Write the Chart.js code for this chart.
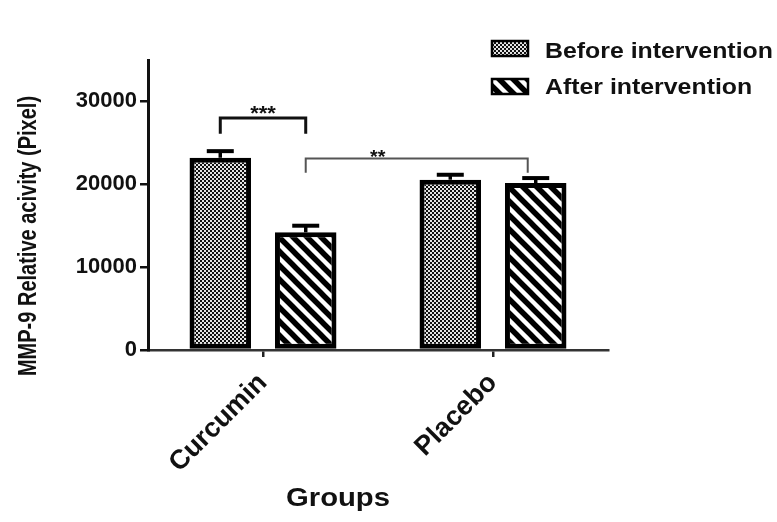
<!DOCTYPE html>
<html>
<head>
<meta charset="utf-8">
<script src="https://cdn.jsdelivr.net/npm/chart.js@4.4.0/dist/chart.umd.min.js"></script>
<style>
  html, body { margin: 0; padding: 0; background: #fff; }
</style>
</head>
<body>
<canvas id="mmp" width="777" height="522"></canvas>
<script>
var FONT = '"Liberation Sans", Arial, sans-serif';

var groups = ['Curcumin', 'Placebo'];
var seriesNames = ['Before intervention', 'After intervention'];
var beforeVals = [23200, 20550];
var afterVals = [14200, 20150];
var beforeErr = [800, 600];
var afterErr = [800, 600];
var yTicks = [0, 10000, 20000, 30000];
var yMax = 35000;

// significance brackets: which bars they join, line level, leg end, stars
var bracketFrom = [[0, 0], [1, 0]];
var bracketTo = [[1, 0], [1, 1]];
var bracketTop = [28000, 23100];
var bracketLeg = [26100, 21400];
var bracketLabel = ['***', '**'];

function checkerPattern(ctx) {
    var c = document.createElement('canvas');
    c.width = 4; c.height = 4;
    var g = c.getContext('2d');
    g.fillStyle = '#e4e4e4';
    g.fillRect(0, 0, 4, 4);
    g.fillStyle = '#111';
    g.fillRect(0, 0, 2, 2);
    g.fillRect(2, 2, 2, 2);
    return ctx.createPattern(c, 'repeat');
}

function stripePattern(ctx) {
    var s = 14;
    var c = document.createElement('canvas');
    c.width = s; c.height = s;
    var g = c.getContext('2d');
    g.fillStyle = '#fff';
    g.fillRect(0, 0, s, s);
    g.strokeStyle = '#000';
    g.lineWidth = 5.5;
    g.beginPath();
    g.moveTo(-s, -s); g.lineTo(2 * s, 2 * s);
    g.moveTo(-s, 0); g.lineTo(s, 2 * s);
    g.moveTo(0, -s); g.lineTo(2 * s, s);
    g.stroke();
    return ctx.createPattern(c, 'repeat');
}

// bold text, a bit wider than normal like the scanned figure
function wideText(ctx, text, x, y, size, sx, align) {
    ctx.save();
    ctx.translate(x, y);
    ctx.scale(sx, 1);
    ctx.font = 'bold ' + size + 'px ' + FONT;
    ctx.textAlign = align;
    ctx.textBaseline = 'alphabetic';
    ctx.fillStyle = '#111';
    ctx.fillText(text, 0, 0);
    ctx.restore();
}

var ctx = document.getElementById('mmp').getContext('2d');
var checker = checkerPattern(ctx);
var stripes = stripePattern(ctx);

var extras = {
    id: 'extras',
    afterDatasetsDraw: function(chart) {
        var c = chart.ctx;
        var ys = chart.scales.y;
        var vals = [beforeVals, afterVals];
        var errs = [beforeErr, afterErr];

        // error bars (upper half only)
        c.save();
        c.strokeStyle = '#000';
        for (var d = 0; d < 2; d++) {
            chart.getDatasetMeta(d).data.forEach(function(bar, i) {
                var yTop = ys.getPixelForValue(vals[d][i] + errs[d][i]);
                c.lineWidth = 3.5;
                c.beginPath();
                c.moveTo(bar.x, bar.y);
                c.lineTo(bar.x, yTop);
                c.stroke();
                c.lineWidth = 4;
                c.beginPath();
                c.moveTo(bar.x - 13.5, yTop);
                c.lineTo(bar.x + 13.5, yTop);
                c.stroke();
            });
        }

        // brackets
        for (var b = 0; b < bracketLabel.length; b++) {
            var xa = chart.getDatasetMeta(bracketFrom[b][0]).data[bracketFrom[b][1]].x;
            var xb = chart.getDatasetMeta(bracketTo[b][0]).data[bracketTo[b][1]].x;
            if (b === 1) xb -= 8;
            var yt = ys.getPixelForValue(bracketTop[b]);
            var yl = ys.getPixelForValue(bracketLeg[b]);
            c.lineWidth = b === 0 ? 3 : 2;
            c.strokeStyle = b === 0 ? '#111' : '#555';
            c.beginPath();
            c.moveTo(xa, yl);
            c.lineTo(xa, yt);
            c.lineTo(xb, yt);
            c.lineTo(xb, yl);
            c.stroke();
            var size = b === 0 ? 20 : 18;
            wideText(c, bracketLabel[b], (xa + xb) / 2 + (b === 0 ? 0 : -39), yt + (b === 0 ? 2 : 4), size, 1.1, 'center');
        }

        // legend
        var pats = [checker, stripes];
        var boxY = [41, 79];
        var textY = [58, 94];
        for (var k = 0; k < 2; k++) {
            c.fillStyle = pats[k];
            c.fillRect(492, boxY[k], 36, 15);
            c.lineWidth = 2.5;
            c.strokeStyle = '#000';
            c.strokeRect(492, boxY[k], 36, 15);
            wideText(c, seriesNames[k], 545, textY[k], 22, 1.13, 'left');
        }

        // axis titles
        c.save();
        c.translate(29, 236);
        c.rotate(-Math.PI / 2);
        c.scale(1, 1.25);
        c.font = 'bold 20px ' + FONT;
        c.textAlign = 'center';
        c.textBaseline = 'middle';
        c.fillStyle = '#111';
        c.fillText('MMP-9 Relative acivity (Pixel)', 0, 0);
        c.restore();

        wideText(c, 'Groups', 338, 506, 25, 1.17, 'center');
        c.restore();
    }
};

var chart = new Chart(ctx, {
    type: 'bar',
    data: {
        labels: groups,
        datasets: [{
            label: seriesNames[0],
            data: beforeVals,
            backgroundColor: checker,
            borderColor: '#000',
            borderWidth: 5,
            borderSkipped: false,
            barPercentage: 0.72,
            categoryPercentage: 0.743
        }, {
            label: seriesNames[1],
            data: afterVals,
            backgroundColor: stripes,
            borderColor: '#000',
            borderWidth: 5,
            borderSkipped: false,
            barPercentage: 0.72,
            categoryPercentage: 0.743
        }]
    },
    options: {
        responsive: false,
        animation: false,
        devicePixelRatio: 1,
        layout: { padding: { left: 0, top: 60, right: 169, bottom: 0 } },
        plugins: {
            legend: { display: false },
            tooltip: { enabled: false }
        },
        scales: {
            x: {
                grid: { offset: false, drawOnChartArea: false, tickLength: 7, color: '#222', lineWidth: 2.5, tickWidth: 2.5 },
                border: { color: '#333', width: 2.5 },
                ticks: {
                    autoSkip: false,
                    maxRotation: 45,
                    minRotation: 45,
                    padding: 10,
                    color: '#111',
                    font: { family: FONT, size: 27, weight: 'bold' }
                },
                afterFit: function(s) { s.height = 172; }
            },
            y: {
                min: 0,
                max: yMax,
                grid: { drawOnChartArea: false, tickLength: 8, color: '#111', lineWidth: 2.5, tickWidth: 2.5 },
                border: { color: '#111', width: 3 },
                ticks: {
                    autoSkip: false,
                    padding: 3,
                    color: '#111',
                    font: { family: FONT, size: 22, weight: 'bold' },
                    callback: function(v) { return String(v); }
                },
                afterBuildTicks: function(s) {
                    s.ticks = yTicks.map(function(v) { return { value: v }; });
                },
                afterFit: function(s) { s.width = 148; }
            }
        }
    },
    plugins: [extras]
});
</script>
</body>
</html>
